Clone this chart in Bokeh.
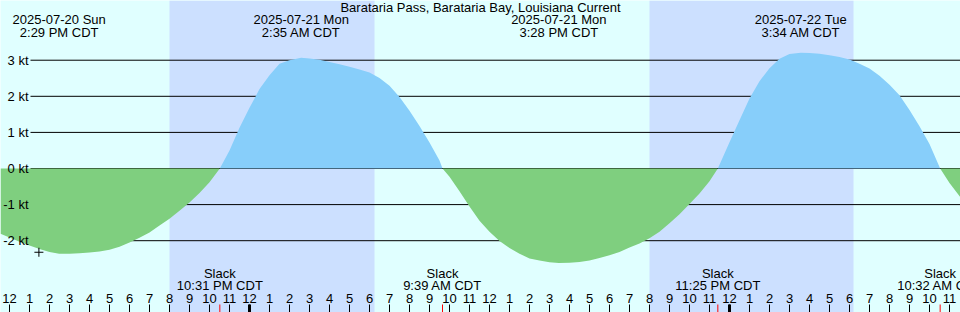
import numpy as np
from bokeh.plotting import figure
from bokeh.models import Range1d
from bokeh.core.properties import value
from bokeh.embed import file_html
from bokeh.resources import INLINE

# Hours since 2025-07-20 12:00 PM CDT
title_text = "Barataria Pass, Barataria Bay, Louisiana Current"

curve_hours = [-0.45, 0, 0.5, 1, 1.5, 2, 2.483, 3, 3.5, 4, 4.5, 5, 5.5, 6, 6.5, 7, 7.5, 8, 8.5, 9, 9.5, 10, 10.517,
               11, 11.5, 12, 12.5, 13, 13.5, 14, 14.583, 15, 15.5, 16, 16.5, 17, 17.5, 18, 18.5, 19, 19.5,
               20, 20.5, 21, 21.5, 21.65,
               22, 22.5, 23, 23.5, 24, 24.5, 25, 25.5, 26, 26.5, 27, 27.467, 28, 28.5, 29, 29.5, 30, 30.5,
               31, 31.5, 32, 32.5, 33, 33.5, 34, 34.5, 35, 35.417,
               36, 36.5, 37, 37.5, 38, 38.5, 39, 39.567, 40, 40.5, 41, 41.5, 42, 42.5, 43, 43.5, 44, 44.5,
               45, 45.5, 46, 46.533, 47, 47.55]
curve_knots = [-1.81, -1.91, -2.03, -2.13, -2.23, -2.31, -2.36, -2.36, -2.35, -2.33, -2.30, -2.25, -2.17, -2.05,
               -1.92, -1.77, -1.58, -1.39, -1.17, -0.94, -0.68, -0.38, 0.0,
               0.50, 1.13, 1.68, 2.20, 2.58, 2.90, 3.00, 3.07, 3.05, 3.01, 2.95, 2.89, 2.82, 2.74, 2.66, 2.51, 2.29, 1.98,
               1.60, 1.18, 0.72, 0.22, 0.0,
               -0.23, -0.63, -1.05, -1.45, -1.75, -2.01, -2.20, -2.36, -2.49, -2.55, -2.60, -2.62, -2.61, -2.59, -2.55,
               -2.48, -2.40, -2.31, -2.19, -2.08, -1.93, -1.75, -1.52, -1.27, -0.98, -0.69, -0.35, 0.0,
               0.73, 1.34, 1.94, 2.42, 2.78, 3.04, 3.17, 3.21, 3.20, 3.18, 3.14, 3.09, 3.02, 2.90, 2.77, 2.57, 2.32, 2.03,
               1.62, 1.17, 0.68, 0.0, -0.40, -0.80]

sunset_hours = [8.0, 32.0]
sunrise_hours = [18.25, 42.2]

grid_levels = [-2, -1, 0, 1, 2, 3]
grid_labels = ["-2 kt", "-1 kt", "0 kt", "1 kt", "2 kt", "3 kt"]

extreme_hours = [2.483, 14.583, 27.467, 39.567]
extreme_dates = ["2025-07-20 Sun", "2025-07-21 Mon", "2025-07-21 Mon", "2025-07-22 Tue"]
extreme_times = ["2:29 PM CDT", "2:35 AM CDT", "3:28 PM CDT", "3:34 AM CDT"]

slack_hours = [10.517, 21.65, 35.417, 46.533]
slack_times = ["10:31 PM CDT", "9:39 AM CDT", "11:25 PM CDT", "10:32 AM CDT"]

tick_hours = list(range(0, 48))
tick_labels = [str((h + 11) % 12 + 1) for h in tick_hours]
midnight_hours = [12, 36]

now_hour = 1.47
now_value = -2.32

# Layout constants
X0, X1 = -0.45, 47.55
Y0, Y1 = -3.989, 4.654
FONT = value("Liberation Sans")
FS = "13px"

p = figure(width=960, height=312, x_range=Range1d(X0, X1), y_range=Range1d(Y0, Y1),
           output_backend="svg", toolbar_location=None, min_border=0,
           x_axis_location=None, y_axis_location=None)
p.outline_line_color = None
p.background_fill_color = "#e0ffff"
p.border_fill_color = "#e0ffff"
p.xgrid.visible = False
p.ygrid.visible = False

# night bands
p.quad(left=sunset_hours, right=sunrise_hours, bottom=Y0, top=Y1,
       fill_color="#cce0ff", line_color=None)

# grid lines
p.segment(x0=1.05, x1=X1, y0=grid_levels, y1=grid_levels, line_color="black", line_width=1)

# curve fill
t = np.array(curve_hours)
v = np.array(curve_knots)
p.varea(x=t, y1=0, y2=np.minimum(v, 0), fill_color="#7fcf7f")
p.varea(x=t, y1=0, y2=np.maximum(v, 0), fill_color="#87cefa")

txt = dict(text_baseline="middle", text_font=FONT, text_font_size=FS, text_color="black")

# y labels
p.text(x=0.95, y=grid_levels, text=grid_labels, text_align="right", **txt)

# title
p.text(x=[(X0 + X1) / 2], y=[4.452], text=[title_text], text_align="center", **txt)

# extreme labels
p.text(x=extreme_hours, y=4.119, text=extreme_dates, text_align="center", **txt)
p.text(x=extreme_hours, y=3.776, text=extreme_times, text_align="center", **txt)

# slack labels
p.text(x=slack_hours, y=-2.917, text=["Slack"] * len(slack_hours), text_align="center", **txt)
p.text(x=slack_hours, y=-3.241, text=slack_times, text_align="center", **txt)

# hour ticks
p.segment(x0=tick_hours, x1=tick_hours, y0=-3.767, y1=Y0, line_color="black", line_width=1)
p.segment(x0=midnight_hours, x1=midnight_hours, y0=-3.767, y1=Y0, line_color="black", line_width=3)
p.segment(x0=slack_hours, x1=slack_hours, y0=-3.767, y1=Y0, line_color="red", line_width=1)
p.text(x=tick_hours, y=-3.601, text=tick_labels, text_align="center", **txt)

# current time marker
p.scatter(x=[now_hour], y=[now_value], marker="cross", size=9, line_color="black", line_width=1)

open("out.html", "w").write(file_html(p, INLINE))
